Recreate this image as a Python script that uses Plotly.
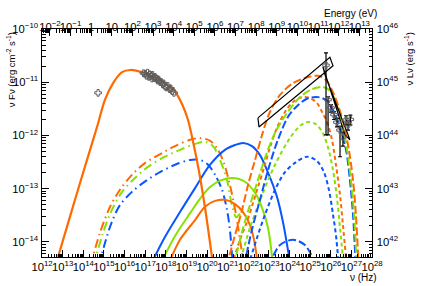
import math
import plotly.graph_objects as go

# ---------------- constants ----------------
H_EV = 4.135667e-15        # Planck constant in eV s (top energy axis)
LOG_L_OVER_F = 56.0        # right axis (nu L_nu) = left axis (nu F_nu) * 1e56
X_RANGE = [12.0, 28.0]     # log10 nu (Hz)
Y_RANGE = [-14.284, -10.0] # log10 nu F_nu

# ---------------- data (log10 nu [Hz], log10 nuFnu [erg cm-2 s-1]) ----------------
# main synchrotron (orange solid)
sync_lognu = [12.78, 13.3, 13.8, 14.33, 14.7, 15.05, 15.44, 15.88, 16.3, 16.75, 17.2, 17.72,
              18.1, 18.45, 18.8, 19.08, 19.27, 19.6, 19.9, 20.3]
sync_logF = [-14.28, -13.6, -12.95, -12.27, -11.8, -11.33, -11.02, -10.81, -10.77, -10.8, -10.87,
             -10.96, -11.06, -11.18, -11.42, -11.71, -12.02, -12.65, -13.35, -14.45]

# dash-dot components
dd_orange_lognu = [14.35, 14.81, 15.30, 15.78, 16.36, 16.99, 17.82, 18.45, 19.18, 19.66, 20.15, 20.53,
                   20.82, 21.11, 21.41, 21.60, 21.80]
dd_orange_logF = [-14.45, -13.83, -13.34, -13.02, -12.74, -12.52, -12.33, -12.20, -12.08, -12.05, -12.10,
                  -12.27, -12.52, -12.93, -13.49, -13.96, -14.45]
dd_green_lognu = [14.50, 14.96, 15.39, 15.88, 16.51, 17.14, 17.96, 18.69, 19.42, 19.90, 20.29, 20.63,
                  20.97, 21.21, 21.41, 21.60, 21.84]
dd_green_logF = [-14.45, -13.83, -13.40, -13.06, -12.80, -12.59, -12.40, -12.27, -12.16, -12.12, -12.20,
                 -12.46, -12.84, -13.31, -13.53, -13.47, -13.31]
dd_blue_lognu = [14.75, 15.10, 15.39, 15.78, 16.36, 17.09, 17.72, 18.45, 19.18, 19.66, 20.05, 20.39,
                 20.73, 20.97, 21.11, 21.25]
dd_blue_logF = [-14.45, -13.96, -13.62, -13.31, -13.06, -12.84, -12.69, -12.55, -12.46, -12.46, -12.55,
                -12.74, -13.02, -13.40, -13.77, -14.45]

# solid secondary components
so_blue_lognu = [17.25, 17.96, 18.69, 19.42, 20.15, 20.87, 21.36, 21.75, 22.18, 22.57, 22.96, 23.39,
                 23.69, 24.05]
so_blue_logF = [-14.45, -13.91, -13.44, -12.99, -12.55, -12.27, -12.18, -12.14, -12.20, -12.37, -12.70,
                -13.15, -13.64, -14.45]
so_green_lognu = [17.70, 18.45, 19.18, 19.66, 20.15, 20.63, 21.21, 21.84, 22.33, 22.67, 22.96, 23.20]
so_green_logF = [-14.45, -13.89, -13.46, -13.19, -12.97, -12.85, -12.80, -12.87, -13.08, -13.36, -13.74,
                 -14.45]
so_orange_lognu = [18.10, 18.69, 19.42, 19.90, 20.39, 20.87, 21.36, 21.75, 22.08, 22.28, 22.47]
so_orange_logF = [-14.45, -13.96, -13.59, -13.34, -13.23, -13.21, -13.29, -13.44, -13.68, -13.96, -14.45]

# short-dash (inverse Compton) components
da_orange_lognu = [21.20, 21.60, 21.94, 22.23, 22.47, 22.76, 23.05, 23.39, 23.78, 24.17, 24.61, 24.99,
                   25.33, 25.58, 25.82, 26.06, 26.25, 26.45, 26.59, 26.78]
da_orange_logF = [-14.45, -13.96, -13.62, -13.27, -12.97, -12.61, -12.23, -11.86, -11.56, -11.37, -11.28,
                  -11.30, -11.39, -11.56, -11.75, -12.08, -12.55, -13.12, -13.68, -14.45]
da_green_lognu = [21.55, 22.08, 22.67, 23.30, 24.02, 24.51, 24.85, 25.24, 25.58, 25.87, 26.11, 26.30,
                  26.45, 26.63]
da_green_logF = [-14.45, -13.74, -13.12, -12.55, -12.05, -11.82, -11.75, -11.78, -11.93, -12.23, -12.65,
                 -13.17, -13.74, -14.45]
da_blue_lognu = [22.00, 22.47, 22.81, 23.30, 23.78, 24.32, 24.85, 25.33, 25.67, 25.91, 26.11, 26.25, 26.39]
da_blue_logF = [-14.45, -13.87, -13.49, -13.02, -12.69, -12.50, -12.40, -12.48, -12.69, -13.02, -13.49,
                -13.87, -14.45]

# long-dash components
ld_orange_lognu = [20.95, 21.36, 21.70, 21.99, 22.33, 22.67, 23.05, 23.54, 24.12, 24.75, 25.38, 25.77,
                   26.06, 26.35, 26.64, 26.88, 27.08, 27.22, 27.35]
ld_orange_logF = [-14.45, -13.87, -13.40, -12.93, -12.46, -11.99, -11.56, -11.24, -11.03, -10.92, -10.88,
                  -10.96, -11.15, -11.43, -11.80, -12.27, -12.84, -13.49, -14.45]
ld_green_lognu = [21.30, 21.70, 22.08, 22.47, 22.86, 23.30, 23.88, 24.51, 25.09, 25.62, 25.96, 26.25,
                  26.55, 26.79, 26.98, 27.13, 27.26]
ld_green_logF = [-14.45, -13.81, -13.31, -12.84, -12.37, -11.95, -11.58, -11.28, -11.13, -11.09, -11.16,
                 -11.39, -11.77, -12.27, -12.84, -13.49, -14.45]
ld_blue_lognu = [21.80, 22.18, 22.57, 22.96, 23.44, 23.93, 24.36, 24.85, 25.38, 25.82, 26.16, 26.45,
                 26.74, 26.93, 27.08, 27.21]
ld_blue_logF = [-14.45, -13.77, -13.21, -12.65, -12.08, -11.65, -11.45, -11.31, -11.28, -11.35, -11.56,
                -11.86, -12.27, -12.84, -13.49, -14.45]
ld_blue_small_lognu = [23.00, 23.54, 24.17, 24.75, 25.30]
ld_blue_small_logF = [-14.45, -14.06, -13.96, -14.06, -14.45]

# X-ray data
xr_lognu = [16.92, 17.0, 17.06, 17.12, 17.18, 17.22, 17.3, 17.33, 17.36, 17.42, 17.48, 17.55, 17.6, 17.66,
            17.72, 17.78, 17.85, 17.9, 17.97, 18.03, 18.1, 18.18, 18.25, 18.32, 18.4]
xr_logF = [-10.83, -10.84, -10.88, -10.82, -10.9, -10.85, -10.88, -10.93, -10.86, -10.92, -10.9, -10.93,
           -10.97, -10.95, -10.99, -11.0, -11.04, -11.02, -11.08, -11.1, -11.07, -11.13, -11.12, -11.17, -11.2]
# optical point
opt_lognu = [14.72]
opt_logF = [-11.20]

# Fermi-LAT bow-tie
fermi_lognu = [22.47, 25.96, 26.11, 22.52, 22.47]
fermi_logF = [-11.67, -10.53, -10.69, -11.84, -11.67]
fermi_pt_lognu = [25.77]
fermi_pt_logF = [-10.68]
fermi_pt_hi = [-10.45]
fermi_pt_lo = [-11.99]

# TeV data
tev_lognu = [25.87, 26.01, 26.16, 26.30, 26.45, 26.59, 26.74, 26.84, 26.95]
tev_logF = [-11.33, -11.48, -11.61, -11.75, -11.90, -12.03, -11.71, -11.80, -11.70]
tev_hi = [-11.27, -11.42, -11.55, -11.68, -11.83, -11.95, -11.63, -11.72, -11.62]
tev_lo = [-11.99, -11.56, -11.70, -11.84, -12.40, -12.20, -11.80, -11.90, -11.80]
tev_bow_lognu = [25.62, 26.69, 26.93, 25.72, 25.62]
tev_bow_logF = [-10.71, -11.99, -12.08, -10.86, -10.71]

ORANGE = "#ff6a00"
GREEN = "#86e200"
BLUE = "#0a55ff"
DASHDOT = "9px,4px,1.5px,4px"
SHORTDASH = "4px,3px"
LONGDASH = "8px,3px"


def lin(v):
    return [10.0 ** a for a in v]


fig = go.Figure()


def add_line(lx, ly, color, dash, width=2.0):
    fig.add_trace(go.Scatter(x=lin(lx), y=lin(ly), mode="lines",
                             line=dict(color=color, width=width, dash=dash, shape="spline", smoothing=0.9),
                             hoverinfo="skip", showlegend=False))


add_line(dd_orange_lognu, dd_orange_logF, ORANGE, DASHDOT)
add_line(dd_green_lognu, dd_green_logF, GREEN, DASHDOT)
add_line(dd_blue_lognu, dd_blue_logF, BLUE, DASHDOT)
add_line(so_blue_lognu, so_blue_logF, BLUE, "solid")
add_line(so_green_lognu, so_green_logF, GREEN, "solid")
add_line(so_orange_lognu, so_orange_logF, ORANGE, "solid")
add_line(da_blue_lognu, da_blue_logF, BLUE, SHORTDASH)
add_line(da_green_lognu, da_green_logF, GREEN, SHORTDASH)
add_line(da_orange_lognu, da_orange_logF, ORANGE, SHORTDASH)
add_line(ld_blue_small_lognu, ld_blue_small_logF, BLUE, LONGDASH)
add_line(ld_blue_lognu, ld_blue_logF, BLUE, LONGDASH)
add_line(ld_green_lognu, ld_green_logF, GREEN, LONGDASH)
add_line(ld_orange_lognu, ld_orange_logF, ORANGE, LONGDASH)
add_line(sync_lognu, sync_logF, ORANGE, "solid", 2.2)

CROSS = dict(symbol="cross-open", size=5.5, color="#5e5e5e", line=dict(width=1, color="#4a4a4a"))

# data
fig.add_trace(go.Scatter(x=lin(xr_lognu), y=lin(xr_logF), mode="markers", marker=CROSS,
                         hoverinfo="skip", showlegend=False))
fig.add_trace(go.Scatter(x=lin(opt_lognu), y=lin(opt_logF), mode="markers", marker=CROSS,
                         hoverinfo="skip", showlegend=False))
fig.add_trace(go.Scatter(x=lin(fermi_lognu), y=lin(fermi_logF), mode="lines",
                         line=dict(color="black", width=1.2), hoverinfo="skip", showlegend=False))
fig.add_trace(go.Scatter(x=lin(tev_bow_lognu), y=lin(tev_bow_logF), mode="lines",
                         line=dict(color="black", width=1.2), hoverinfo="skip", showlegend=False))


def err_arrays(lv, lhi, llo):
    v = lin(lv)
    hi = [10.0 ** h - a for h, a in zip(lhi, v)]
    lo = [a - 10.0 ** l for l, a in zip(llo, v)]
    return v, hi, lo


fv, fhi, flo = err_arrays(fermi_pt_logF, fermi_pt_hi, fermi_pt_lo)
fig.add_trace(go.Scatter(x=lin(fermi_pt_lognu), y=fv, mode="markers", marker=CROSS,
                         error_y=dict(type="data", symmetric=False, array=fhi, arrayminus=flo,
                                      color="black", thickness=1.2, width=2),
                         hoverinfo="skip", showlegend=False))
tv, thi, tlo = err_arrays(tev_logF, tev_hi, tev_lo)
fig.add_trace(go.Scatter(x=lin(tev_lognu), y=tv, mode="markers", marker=CROSS,
                         error_y=dict(type="data", symmetric=False, array=thi, arrayminus=tlo,
                                      color="black", thickness=1.2, width=2),
                         hoverinfo="skip", showlegend=False))

# invisible trace for secondary axes
fig.add_trace(go.Scatter(x=[1.0, 10.0], y=[1e43, 1e44], xaxis="x2", yaxis="y2", mode="markers",
                         marker=dict(opacity=0), hoverinfo="skip", showlegend=False))

logh = math.log10(H_EV)
axis_common = dict(type="log", dtick=1, exponentformat="power", ticks="inside", ticklen=7,
                   tickcolor="black", tickwidth=1, showline=True, linecolor="black", linewidth=1,
                   showgrid=False, zeroline=False, tickangle=0, automargin=False,
                   tickfont=dict(size=9, color="black"),
                   minor=dict(ticks="inside", ticklen=3.5, dtick="D1", tickcolor="black", tickwidth=1,
                              showgrid=False))

fig.update_layout(
    width=421, height=286,
    margin=dict(l=42, r=49, t=29, b=29),
    paper_bgcolor="white", plot_bgcolor="white",
    font=dict(family="Liberation Sans, Arial, sans-serif", size=10, color="black"),
    showlegend=False,
    xaxis=dict(range=X_RANGE, ticklabelstandoff=0, **axis_common),
    yaxis=dict(range=Y_RANGE, ticklabelstandoff=1, **axis_common),
    xaxis2=dict(range=[X_RANGE[0] + logh, X_RANGE[1] + logh], overlaying="x", side="top", anchor="y2",
                ticklabelstandoff=-7, **axis_common),
    yaxis2=dict(range=[Y_RANGE[0] + LOG_L_OVER_F, Y_RANGE[1] + LOG_L_OVER_F], overlaying="y",
                side="right", anchor="x2", ticklabelstandoff=2, **axis_common),
    annotations=[
        dict(text="ν Fν (erg cm<sup>-2</sup> s<sup>-1</sup>)", xref="paper", yref="paper", x=-0.095, y=0.995,
             xanchor="center", yanchor="top", textangle=-90, showarrow=False, font=dict(size=9.5)),
        dict(text="ν Lν (erg s<sup>-1</sup>)", xref="paper", yref="paper", x=1.112, y=0.995,
             xanchor="center", yanchor="top", textangle=-90, showarrow=False, font=dict(size=9.5)),
        dict(text="Energy (eV)", xref="paper", yref="paper", x=1.02, y=1.07,
             xanchor="right", yanchor="middle", showarrow=False, font=dict(size=10)),
        dict(text="ν (Hz)", xref="paper", yref="paper", x=1.02, y=-0.09,
             xanchor="right", yanchor="middle", showarrow=False, font=dict(size=10)),
    ],
)

fig.write_html("out.html", config={"displayModeBar": False},
               post_script="document.body.style.margin='0px';")
